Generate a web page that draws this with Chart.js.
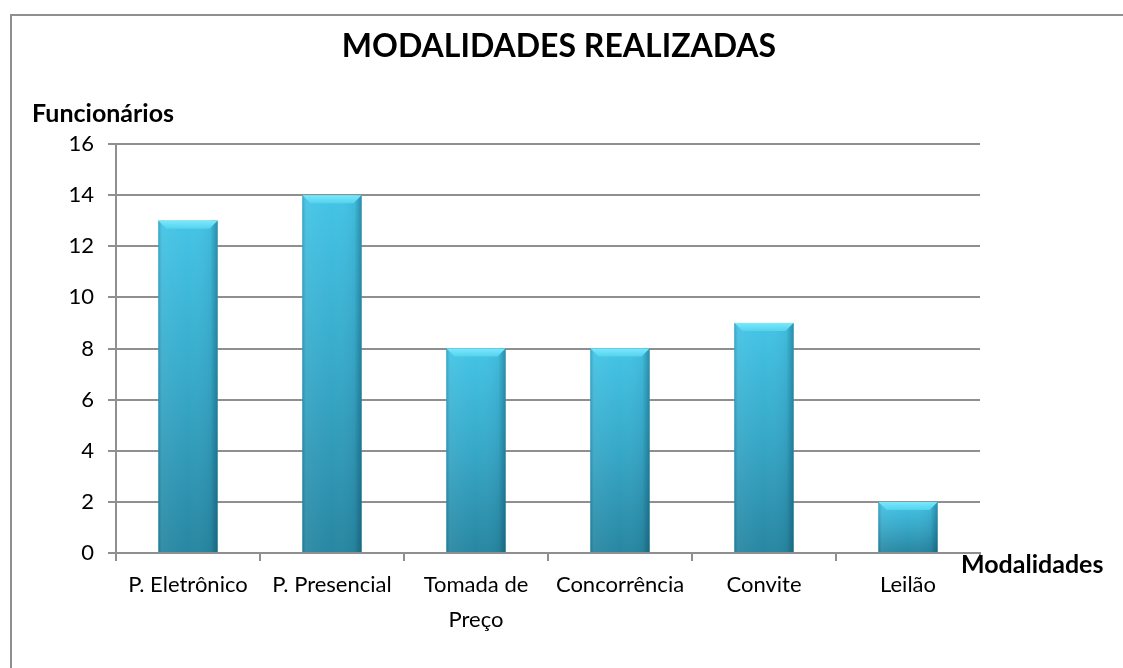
<!DOCTYPE html>
<html>
<head>
<meta charset="utf-8">
<script src="https://cdn.jsdelivr.net/npm/chart.js@4"></script>
<style>
  html, body { margin: 0; padding: 0; background: #fff; }
  #wrap { width: 1123px; height: 668px; }
</style>
</head>
<body>
<div id="wrap"><canvas id="myChart"></canvas></div>
<script>
const categories = ['P. Eletrônico', 'P. Presencial', ['Tomada de', 'Preço'], 'Concorrência', 'Convite', 'Leilão'];
const values = [13, 14, 8, 8, 9, 2];
const yTicks = [0, 2, 4, 6, 8, 10, 12, 14, 16];

const FONT = 'Lato, "Open Sans", sans-serif';
const GRID = '#8f8f8f';

// frame, title and axis titles
const decor = {
  id: 'decor',
  beforeDraw(chart) {
    const c = chart.ctx;
    c.save();
    c.strokeStyle = GRID;
    c.lineWidth = 2;
    c.strokeRect(11, 15, 1200, 700);
    c.restore();
  },
  afterDraw(chart) {
    const c = chart.ctx;
    c.save();
    c.fillStyle = '#000';
    c.textBaseline = 'middle';
    c.textAlign = 'center';
    c.font = 'bold 32px ' + FONT;
    c.fillText('MODALIDADES REALIZADAS', 559, 47);
    c.font = 'bold 25px ' + FONT;
    c.textAlign = 'left';
    c.fillText('Funcionários', 32, 114);
    c.fillText('Modalidades', 961, 565);
    c.restore();
  }
};

// glossy bevel look on each bar
const bevel = {
  id: 'bevel',
  afterDatasetsDraw(chart) {
    const c = chart.ctx;
    chart.getDatasetMeta(0).data.forEach(bar => {
      const { x, y, base, width } = bar.getProps(['x', 'y', 'base', 'width'], true);
      const l = x - width / 2, r = x + width / 2, h = base - y;
      c.save();
      let g = c.createLinearGradient(0, y, 0, base);
      g.addColorStop(0, '#44c4e6');
      g.addColorStop(0.5, '#37a8c8');
      g.addColorStop(1, '#2887a2');
      c.fillStyle = g;
      c.fillRect(l, y, width, h);
      g = c.createLinearGradient(l, 0, r, 0);
      g.addColorStop(0, 'rgba(0,40,60,0.2)');
      g.addColorStop(0.08, 'rgba(255,255,255,0.05)');
      g.addColorStop(0.5, 'rgba(255,255,255,0)');
      g.addColorStop(0.88, 'rgba(0,40,60,0.06)');
      g.addColorStop(1, 'rgba(0,40,60,0.35)');
      c.fillStyle = g;
      c.fillRect(l, y, width, h);
      const b = Math.min(8, h / 2);
      c.beginPath();
      c.moveTo(l, y);
      c.lineTo(r, y);
      c.lineTo(r - b, y + b);
      c.lineTo(l + b, y + b);
      c.closePath();
      g = c.createLinearGradient(0, y, 0, y + b);
      g.addColorStop(0, '#7ae9fb');
      g.addColorStop(1, '#55d2ee');
      c.fillStyle = g;
      c.fill();
      c.restore();
    });
  }
};

new Chart(document.getElementById('myChart'), {
  type: 'bar',
  data: {
    labels: categories,
    datasets: [{
      data: values,
      backgroundColor: '#37a9c9',
      borderWidth: 0,
      categoryPercentage: 1,
      barPercentage: 0.41
    }]
  },
  options: {
    responsive: true,
    maintainAspectRatio: false,
    animation: false,
    layout: { padding: { top: 144, right: 143, left: 0, bottom: 0 } },
    plugins: { legend: { display: false }, tooltip: { enabled: false } },
    scales: {
      x: {
        offset: true,
        afterFit(s) { s.height = 115; },
        grid: { display: true, drawOnChartArea: false, drawTicks: true, tickLength: 8, color: GRID, lineWidth: 2 },
        border: { color: GRID, width: 2 },
        ticks: { color: '#000', font: { family: FONT, size: 22, lineHeight: 1.6 }, padding: 6, maxRotation: 0, autoSkip: false }
      },
      y: {
        min: 0,
        max: 16,
        afterFit(s) { s.width = 116; },
        afterBuildTicks(s) { s.ticks = yTicks.map(v => ({ value: v })); },
        grid: { color: GRID, lineWidth: 2, tickLength: 8 },
        border: { color: GRID, width: 2 },
        ticks: { color: '#000', font: { family: FONT, size: 22 }, padding: 14 }
      }
    }
  },
  plugins: [decor, bevel]
});
</script>
</body>
</html>
